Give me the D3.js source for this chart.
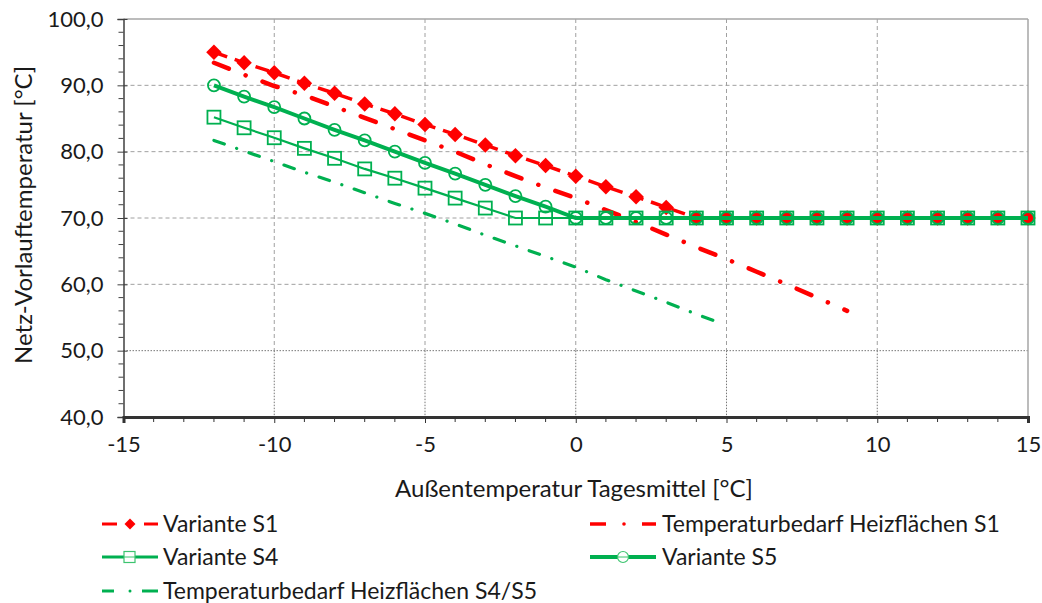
<!DOCTYPE html>
<html><head><meta charset="utf-8">
<script src="https://cdn.jsdelivr.net/npm/d3@7"></script>
<style>
body{margin:0;background:#fff;}
text{font-family:Lato,"Open Sans",sans-serif;fill:#1a1a1a;}
</style></head>
<body>
<svg id="c" width="1042" height="603"></svg>
<script>
// ---- data ----
const xTicks = [-15,-10,-5,0,5,10,15];
const yTicks = [40,50,60,70,80,90,100];
const xDays = [-12,-11,-10,-9,-8,-7,-6,-5,-4,-3,-2,-1,0,1,2,3,4,5,6,7,8,9,10,11,12,13,14,15];
const varianteS1 = [95.0,93.4,91.9,90.3,88.8,87.2,85.7,84.1,82.6,81.0,79.4,77.9,76.3,74.7,73.2,71.6,70,70,70,70,70,70,70,70,70,70,70,70];
const varianteS4 = [85.2,83.6,82.1,80.5,79.0,77.4,76.0,74.5,73.0,71.5,70,70,70,70,70,70,70,70,70,70,70,70,70,70,70,70,70,70];
const varianteS5 = [90.0,88.3,86.7,85.0,83.3,81.7,80.0,78.3,76.7,75.0,73.3,71.7,70,70,70,70,70,70,70,70,70,70,70,70,70,70,70,70];
const xBedarfS1 = [-12,-11,-10,-9,-8,-7,-6,-5,-4,-3,-2,-1,0,1,2,3,4,5,6,7,8,9];
const bedarfS1 = [93.4,91.6,89.9,88.5,86.8,85.1,83.4,81.7,80.0,78.1,76.3,74.6,73.0,71.2,69.4,67.5,65.6,63.8,61.9,60.0,58.0,56.0];
const xBedarfS45 = [-12,-11,-10,-9,-8,-7,-6,-5,-4,-3,-2,-1,0,1,2,3,4,4.6];
const bedarfS45 = [81.7,80.1,78.5,76.9,75.4,73.8,72.2,70.7,69.1,67.4,65.8,64.2,62.6,60.7,59.0,57.3,55.5,54.5];
const legendLabels = ["Variante S1","Temperaturbedarf Heizflächen S1","Variante S4","Variante S5","Temperaturbedarf Heizflächen S4/S5"];
const xTitle = "Außentemperatur Tagesmittel [°C]";
const yTitle = "Netz-Vorlauftemperatur [°C]";

const RED = "#FF0000", GREEN = "#00B050";
const svg = d3.select("#c");
const x = d3.scaleLinear().domain([-15,15]).range([123.5,1028]);
const y = d3.scaleLinear().domain([40,100]).range([417,19]);

// grid
const g = svg.append("g");
yTicks.filter(v=>v>40 && v<100).forEach(v=>{
  g.append("line").attr("x1",x(-15)).attr("x2",x(15)).attr("y1",y(v)).attr("y2",y(v))
   .attr("stroke", v===50? "#777":"#A0A0A0").attr("stroke-width",1)
   .attr("stroke-dasharray", v===50? "1.5,1.5":"4,3");
});
xTicks.filter(v=>v>-15 && v<15).forEach(v=>{
  g.append("line").attr("x1",x(v)).attr("x2",x(v)).attr("y1",y(100)).attr("y2",y(50))
   .attr("stroke","#A0A0A0").attr("stroke-dasharray","4,3");
  g.append("line").attr("x1",x(v)).attr("x2",x(v)).attr("y1",y(50)).attr("y2",y(40))
   .attr("stroke","#777").attr("stroke-dasharray","1.5,1.5");
});
// top and right border
g.append("line").attr("x1",x(-15)).attr("x2",x(15)).attr("y1",y(100)).attr("y2",y(100)).attr("stroke","#A6A6A6").attr("stroke-width",1.5);
g.append("line").attr("x1",x(15)).attr("x2",x(15)).attr("y1",y(100)).attr("y2",y(40)).attr("stroke","#A6A6A6").attr("stroke-width",1.5);

// axes
const yAxis = d3.axisLeft(y).tickValues(yTicks).tickSize(6).tickFormat(d=>d3.format(".1f")(d).replace(".",","));
const ya = svg.append("g").attr("transform",`translate(${x(-15)},0)`).call(yAxis);
ya.select(".domain").attr("stroke","#404040").attr("stroke-width",1.5);
ya.selectAll(".tick line").attr("stroke","#404040").attr("x2",-6).attr("x1",4);
ya.selectAll(".tick text").attr("x",-20).style("font-size","22px").style("font-family","Lato").attr("fill","#1a1a1a");
// minor y ticks
const yMinor = d3.range(40,100,2).filter(v=>v%10!==0);
svg.append("g").selectAll("line").data(yMinor).join("line")
  .attr("x1",x(-15)-5).attr("x2",x(-15)).attr("y1",d=>y(d)).attr("y2",d=>y(d)).attr("stroke","#404040");

const xAxis = d3.axisBottom(x).tickValues(xTicks).tickSize(6).tickFormat(d=>d3.format("d")(d).replace("−","-"));
const xa = svg.append("g").attr("transform",`translate(0,${y(40)})`).call(xAxis);
xa.select(".domain").attr("stroke","#333").attr("stroke-width",3);
xa.selectAll(".tick line").attr("stroke","#333");
xa.selectAll(".tick text").attr("y",19).style("font-size","22px").style("font-family","Lato").attr("fill","#1a1a1a");
const xMinor = d3.range(-15,16,1).filter(v=>v%5!==0);
svg.append("g").selectAll("line").data(xMinor).join("line")
  .attr("x1",d=>x(d)).attr("x2",d=>x(d)).attr("y1",y(40)).attr("y2",y(40)+5).attr("stroke","#333");

// titles
svg.append("text").attr("x",574).attr("y",497).attr("text-anchor","middle").style("font-size","24px").text(xTitle);
svg.append("text").attr("transform","translate(32,215) rotate(-90)").attr("text-anchor","middle").style("font-size","24px").text(yTitle);

// series
const line = d3.line().x(d=>x(d[0])).y(d=>y(d[1]));
const pS1 = d3.zip(xDays,varianteS1), pS4 = d3.zip(xDays,varianteS4), pS5 = d3.zip(xDays,varianteS5);
const pB1 = d3.zip(xBedarfS1,bedarfS1), pB45 = d3.zip(xBedarfS45,bedarfS45);
const plot = svg.append("g");
// S1
plot.append("path").datum(pS1).attr("d",line).attr("fill","none").attr("stroke",RED).attr("stroke-width",3.5).attr("stroke-dasharray","14,8");
plot.append("g").selectAll("path").data(pS1).join("path")
  .attr("d",d3.symbol(d3.symbolSquare,120))
  .attr("transform",d=>`translate(${x(d[0])},${y(d[1])}) rotate(45)`).attr("fill",RED);
// Bedarf S1
plot.append("path").datum(pB1).attr("d",line).attr("fill","none").attr("stroke",RED).attr("stroke-width",4.5)
  .attr("stroke-linecap","round").attr("stroke-dasharray","16,18,0.1,18");
// S4
plot.append("path").datum(pS4).attr("d",line).attr("fill","none").attr("stroke",GREEN).attr("stroke-width",2.2);
plot.append("g").selectAll("rect").data(pS4).join("rect")
  .attr("x",d=>x(d[0])-6.5).attr("y",d=>y(d[1])-6.5).attr("width",13).attr("height",13)
  .attr("fill","none").attr("stroke",GREEN).attr("stroke-width",1.8);
// S5
plot.append("path").datum(pS5).attr("d",line).attr("fill","none").attr("stroke",GREEN).attr("stroke-width",4);
plot.append("g").selectAll("circle").data(pS5).join("circle")
  .attr("cx",d=>x(d[0])).attr("cy",d=>y(d[1])).attr("r",6)
  .attr("fill","none").attr("stroke",GREEN).attr("stroke-width",1.8);
// Bedarf S4/S5
plot.append("path").datum(pB45).attr("d",line).attr("fill","none").attr("stroke",GREEN).attr("stroke-width",3.2)
  .attr("stroke-linecap","round").attr("stroke-dasharray","11,13,0.1,13");

// legend
const leg = svg.append("g");
const items = [
  {lx:102, ly:524, t:0},
  {lx:590, ly:524, t:1},
  {lx:102, ly:557, t:2},
  {lx:590, ly:557, t:3},
  {lx:102, ly:591, t:4}
];
items.forEach(it=>{
  const gg = leg.append("g").attr("transform",`translate(${it.lx},${it.ly})`);
  if(it.t===0){
    gg.append("line").attr("x1",0).attr("x2",15).attr("stroke",RED).attr("stroke-width",3);
    gg.append("line").attr("x1",42).attr("x2",56).attr("stroke",RED).attr("stroke-width",3);
    gg.append("path").attr("d",d3.symbol(d3.symbolSquare,60)).attr("transform","translate(28,0) rotate(45)").attr("fill",RED);
  } else if(it.t===1){
    gg.append("line").attr("x1",0).attr("x2",16).attr("stroke",RED).attr("stroke-width",3.5);
    gg.append("circle").attr("cx",34).attr("r",1.8).attr("fill",RED);
    gg.append("line").attr("x1",52).attr("x2",66).attr("stroke",RED).attr("stroke-width",3.5);
  } else if(it.t===2){
    gg.append("line").attr("x1",0).attr("x2",56).attr("stroke",GREEN).attr("stroke-width",3);
    gg.append("rect").attr("x",22).attr("y",-5.5).attr("width",11).attr("height",11).attr("fill","#fff").attr("stroke","#3CC46F").attr("stroke-width",1.2);
    gg.append("line").attr("x1",22).attr("x2",33).attr("stroke","#3CC46F").attr("stroke-width",1);
  } else if(it.t===3){
    gg.append("line").attr("x1",0).attr("x2",66).attr("stroke",GREEN).attr("stroke-width",4);
    gg.append("circle").attr("cx",33).attr("r",5.5).attr("fill","#fff").attr("stroke","#3CC46F").attr("stroke-width",1.2);
    gg.append("line").attr("x1",27.5).attr("x2",38.5).attr("stroke","#3CC46F").attr("stroke-width",1);
  } else {
    gg.append("line").attr("x1",0).attr("x2",12).attr("stroke",GREEN).attr("stroke-width",3);
    gg.append("circle").attr("cx",28).attr("r",1.5).attr("fill",GREEN);
    gg.append("line").attr("x1",40).attr("x2",56).attr("stroke",GREEN).attr("stroke-width",3);
  }
  gg.append("text").attr("x", it.lx===102? 61:72).attr("dy","0.35em").style("font-size","23px").text(legendLabels[it.t]);
});
</script>
</body></html>
